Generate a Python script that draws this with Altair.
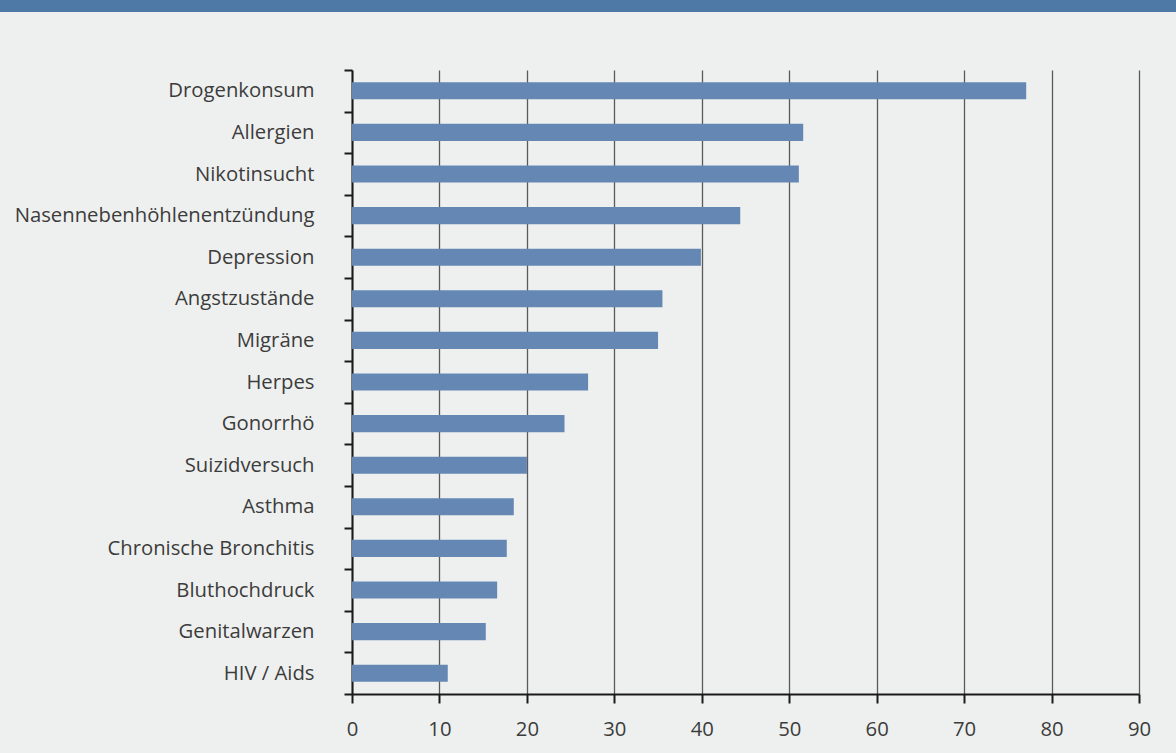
import altair as alt
import pandas as pd

categories = [
    "Drogenkonsum", "Allergien", "Nikotinsucht", "Nasennebenhöhlenentzündung",
    "Depression", "Angstzustände", "Migräne", "Herpes", "Gonorrhö",
    "Suizidversuch", "Asthma", "Chronische Bronchitis", "Bluthochdruck",
    "Genitalwarzen", "HIV / Aids",
]
values = [77.1, 51.6, 51.1, 44.4, 39.9, 35.5, 35.0, 27.0, 24.3, 20.0, 18.5, 17.7, 16.6, 15.3, 10.95]
x_ticks = [0, 10, 20, 30, 40, 50, 60, 70, 80, 90]

df = pd.DataFrame({"cat": categories, "val": values})

FONT = "Open Sans"
TEXT = "#3c3c3c"
W, H = 787, 624

bars = alt.Chart(df).mark_bar(color="#6487b3", height=alt.RelativeBandSize(0.41)).encode(
    y=alt.Y("cat:N", sort=categories, title=None,
            scale=alt.Scale(paddingInner=0, paddingOuter=0),
            axis=alt.Axis(tickBand="extent", tickSize=8, tickWidth=2, tickColor="#1a1a1a",
                          domainColor="#1a1a1a", domainWidth=2,
                          labelFont=FONT, labelFontSize=20.3, labelColor=TEXT,
                          labelLimit=500, labelPadding=30, grid=False)),
    x=alt.X("val:Q", title=None,
            scale=alt.Scale(domain=[0, 90], nice=False),
            axis=alt.Axis(values=x_ticks, tickSize=9, tickWidth=2, tickColor="#1a1a1a",
                          domainColor="#1a1a1a", domainWidth=2,
                          grid=True, gridColor="#5a5a5a", gridWidth=1.3,
                          labelFlush=False,
                          labelFont=FONT, labelFontSize=20.3, labelColor=TEXT,
                          labelPadding=16)),
)

band = alt.Chart(pd.DataFrame({"a": [0]})).mark_rect(color="#4e79a7").encode(
    x=alt.value(-352), x2=alt.value(1176 - 352),
    y=alt.value(-70), y2=alt.value(-58),
)

chart = alt.layer(band, bars).properties(
    width=W, height=H,
    padding={"left": 352, "top": 70, "right": 37, "bottom": 59},
    autosize=alt.AutoSizeParams(type="none"),
    background="#eef0ef",
).configure_view(stroke=None)

chart.save("out.html", embed_options={"renderer": "svg", "actions": False})
